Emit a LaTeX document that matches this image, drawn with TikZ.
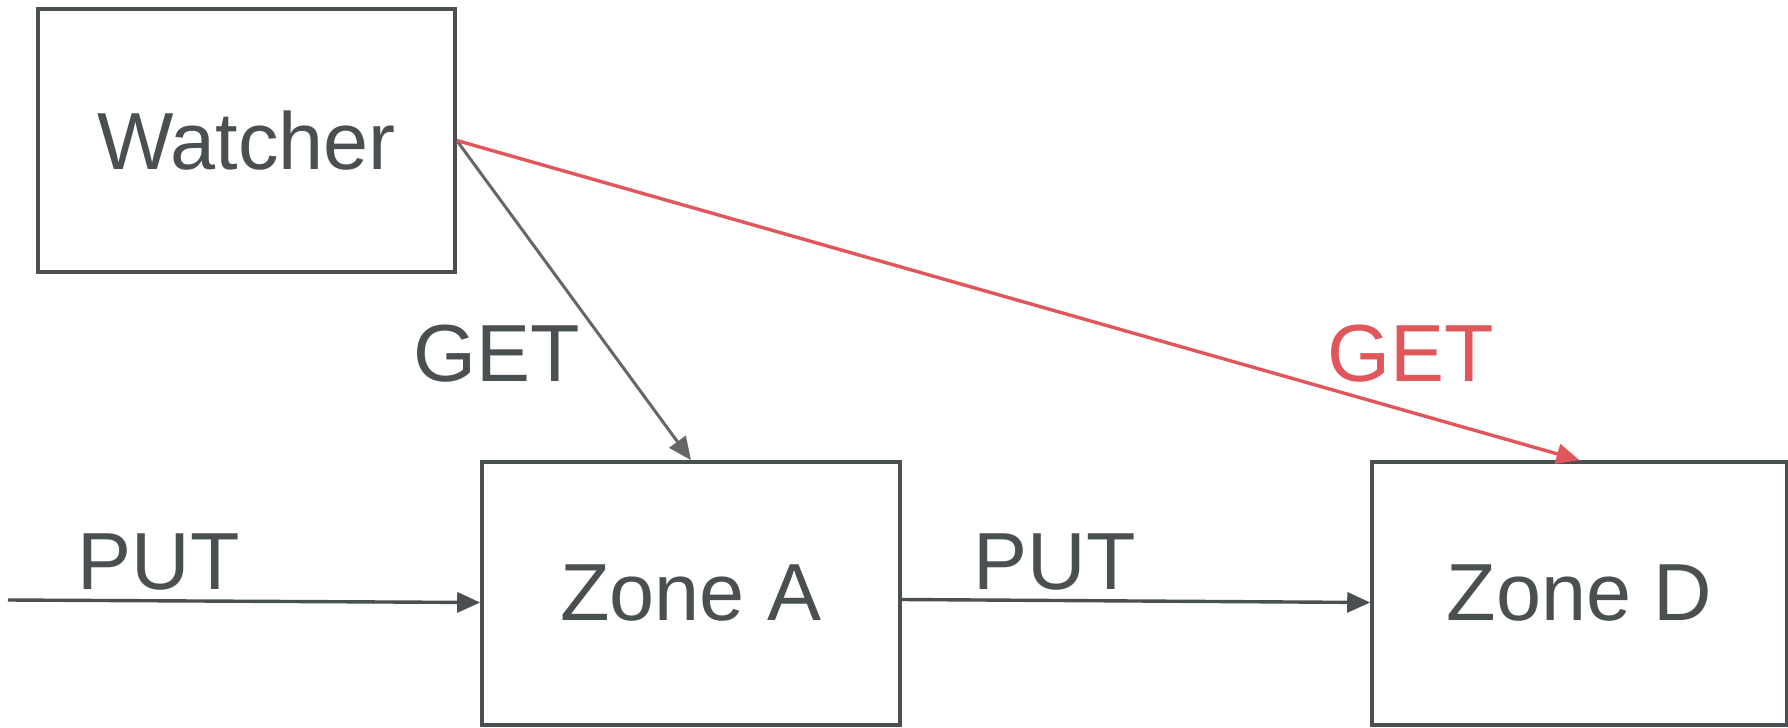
\documentclass[tikz,border=0pt]{standalone}
\usepackage{fontspec}
\setmainfont{Liberation Sans}
\usetikzlibrary{arrows.meta,calc}
\definecolor{ink}{HTML}{4A4F52}
\definecolor{getgray}{HTML}{666666}
\definecolor{getred}{HTML}{E0565B}
\begin{document}
\begin{tikzpicture}[x=1pt,y=-1pt,
  bigfont/.style={font=\fontsize{81}{97}\selectfont},
  box/.style={draw=ink, line width=3.6pt, minimum height=263pt, inner sep=0pt,
    text=ink, bigfont},
  lbl/.style={anchor=base, inner sep=0pt, bigfont},
  conn/.style={line width=3.4pt, -{Triangle[length=23pt,width=20pt]}}]
\useasboundingbox (0,0) rectangle (1788,728);
% boxes
\node[box, minimum width=417pt] (w)  at (246.5,140.5) {Watcher};
\node[box, minimum width=418pt] (zA) at (691,593.5) {Zone A};
\node[box, minimum width=415pt] (zD) at (1579.5,593.5) {Zone D};
% incoming write
\coordinate (src) at (8,600);
\draw[conn, draw=ink, fill=ink] (src) -- ($(zA.west)+(0,9)$);
\draw[conn, draw=ink, fill=ink] ($(zA.east)+(0,6)$) -- ($(zD.west)+(0,9)$);
% watcher reads
\draw[conn, line width=3pt, draw=getgray, fill=getgray] (w.east) -- (zA.north);
\draw[conn, draw=getred, fill=getred] (w.east) -- (zD.north);
% labels
\node[lbl, text=ink] (p1) at (158.5,589) {PUT};
\node[lbl, text=ink] (p2) at (1054.5,589) {PUT};
\node[lbl, text=ink] (g1) at (496.5,381) {GET};
\node[lbl, text=getred] (g2) at (1410.5,381) {GET};
\end{tikzpicture}
\end{document}
